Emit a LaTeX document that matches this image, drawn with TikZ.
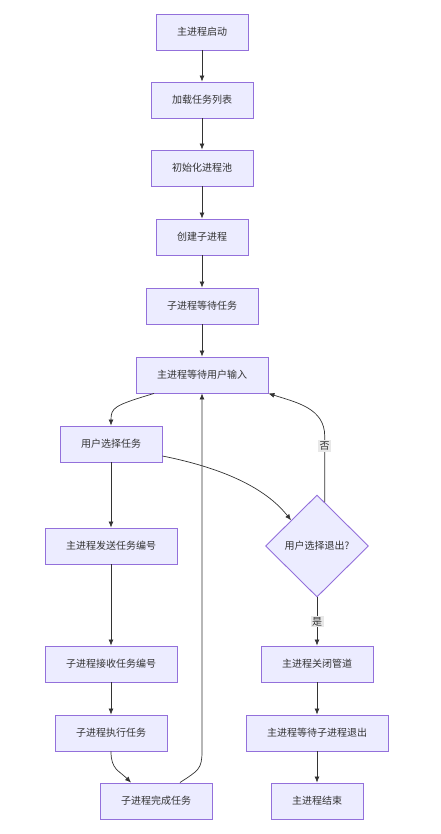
\documentclass[tikz,border=0pt]{standalone}
\usepackage{fontspec}
\setmainfont{Noto Sans CJK SC}
\usepackage{xcolor}
\usetikzlibrary{arrows.meta,shapes.geometric}
\definecolor{boxfill}{HTML}{ECECFF}
\definecolor{boxline}{HTML}{9370DB}
\definecolor{ink}{HTML}{333333}
\definecolor{tagfill}{HTML}{E8E8E8}

\begin{document}
\begin{tikzpicture}[>={Latex[length=6pt,width=5pt]},x=1pt,y=-1pt,
  box/.style={draw=boxline,fill=boxfill,line width=0.9pt,minimum height=36pt,
    inner xsep=21pt,inner ysep=0pt,text=ink,font=\fontsize{10}{12}\selectfont},
  decision/.style={diamond,aspect=1,draw=boxline,fill=boxfill,line width=0.9pt,
    minimum width=103pt,minimum height=102pt,inner sep=0pt,text=ink,
    font=\fontsize{10}{12}\selectfont},
  flow/.style={->,draw=ink,line width=0.7pt},
  tag/.style={fill=tagfill,inner sep=1.5pt,text=ink,font=\fontsize{10}{12}\selectfont}]
  \useasboundingbox (0,0) rectangle (441,834);
  % main column
  \node[box] (start) at (202,32) {主进程启动};
  \node[box] (load) at (202,100) {加载任务列表};
  \node[box] (pool) at (202,168) {初始化进程池};
  \node[box] (spawn) at (202,237) {创建子进程};
  \node[box] (wait) at (202,306) {子进程等待任务};
  \node[box] (input) at (202,375) {主进程等待用户输入};
  % task branch
  \node[box] (pick) at (111,444) {用户选择任务};
  \node[box] (send) at (111,546) {主进程发送任务编号};
  \node[box] (recv) at (111,664) {子进程接收任务编号};
  \node[box] (run) at (111,733) {子进程执行任务};
  \node[box] (done) at (156,801) {子进程完成任务};
  % quit branch
  \node[decision] (quit) at (317,546) {用户选择退出?};
  \node[box] (close) at (317,664) {主进程关闭管道};
  \node[box] (join) at (317,733) {主进程等待子进程退出};
  \node[box] (stop) at (317,801) {主进程结束};

  \draw[flow] (start) -- (load);
  \draw[flow] (load) -- (pool);
  \draw[flow] (pool) -- (spawn);
  \draw[flow] (spawn) -- (wait);
  \draw[flow] (wait) -- (input);
  \draw[flow] ([xshift=-48pt]input.south) .. controls +(-40,12) and +(0,-18) .. (pick.north);
  \draw[flow] (pick) -- (send);
  \draw[flow] (pick.east) ++(0,12) .. controls +(70,14) and +(-22,-28) .. (quit.north west);
  \draw[flow] (send) -- (recv);
  \draw[flow] (recv) -- (run);
  \draw[flow] (run.south) .. controls +(0,18) and +(-12,-12) .. ([xshift=-25pt]done.north);
  \draw[flow] ([xshift=24pt]done.north) .. controls +(18,-12) and +(0,18) .. (input.south |- run.south) -- (input.south);
  \draw[flow] (quit.80) -- ++(0,-66) node[tag,pos=0.85] {否} .. controls +(0,-28) and +(28,9) .. (input.south east);
  \draw[flow] (quit.south) -- node[tag] {是} (close.north);
  \draw[flow] (close) -- (join);
  \draw[flow] (join) -- (stop);
\end{tikzpicture}
\end{document}
